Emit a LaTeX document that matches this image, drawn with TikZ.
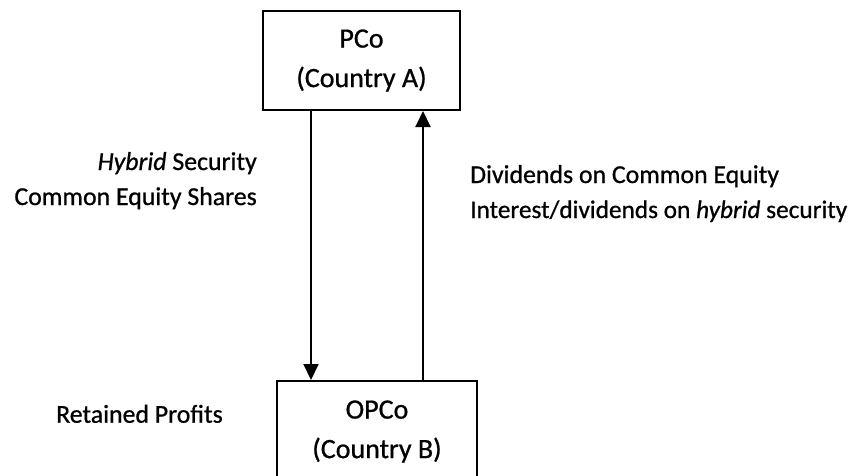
\documentclass[tikz,border=0pt]{standalone}
\usepackage{fontspec}
\setmainfont{Carlito}[FakeBold=0.8]
\usetikzlibrary{arrows.meta}

\begin{document}
\begin{tikzpicture}[x=1pt, y=-1pt,
  entity/.style={draw=black, line width=2pt, fill=white, align=center,
    inner sep=0pt, font=\fontsize{28}{39.5}\selectfont},
  flow/.style={line width=2pt, -{Triangle[length=16pt, width=15pt]}},
  lbl/.style={inner sep=0pt, font=\fontsize{25.8}{35}\selectfont}]

  % page frame
  \useasboundingbox (0,0) rectangle (856,475);
  \clip (0,0) rectangle (856,475);

  % companies
  \node[entity, minimum width=197pt, minimum height=99pt] (pco) at (361.5,60.5)
    {PCo\\(Country A)};
  \node[entity, minimum width=200pt, minimum height=101pt] (opco) at (377,431.5)
    {OPCo\\(Country B)};

  % capital flowing down, returns flowing up
  \draw[flow] ([xshift=-50.5pt]pco.south) -- ([xshift=-66pt]opco.north);
  \draw[flow] ([xshift=46pt]opco.north) -- ([xshift=61.5pt]pco.south);

  % flow descriptions
  \node[lbl, anchor=base east] (hyb) at (257,170) {\textit{Hybrid} Security};
  \node[lbl, anchor=base east] (ceq) at (257,205) {Common Equity Shares};
  \node[lbl, anchor=base west] (div) at (470,183) {Dividends on Common Equity};
  \node[lbl, anchor=base west, font=\fontsize{25.3}{35}\selectfont] (int) at (470,218)
    {Interest/dividends on \textit{hybrid} security};
  \node[lbl, anchor=base west] (ret) at (56,422.7) {Retained Profits};
\end{tikzpicture}
\end{document}
